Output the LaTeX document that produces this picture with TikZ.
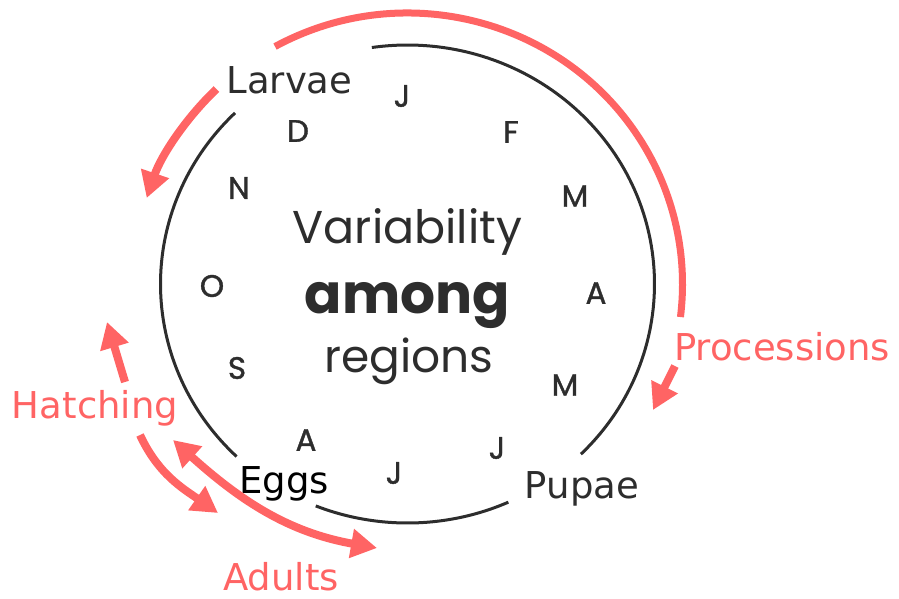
\documentclass[tikz,border=0pt]{standalone}
\usepackage{fontspec}
\setmainfont{Poppins}
\newfontfamily\monthfont[FakeBold=1.2]{Poppins}
\newfontfamily\handfont{DejaVu Sans}
\usetikzlibrary{arrows.meta,calc}
\definecolor{rosered}{RGB}{255,100,100}
\definecolor{inkgray}{RGB}{45,45,45}
\tikzset{
  month/.style={font=\monthfont\fontsize{31}{31}\selectfont, text=inkgray, inner sep=0pt},
  stage/.style={font=\handfont\fontsize{37}{37}\selectfont, text=inkgray, inner sep=0pt, anchor=base},
  event/.style={stage, text=rosered},
  ring/.style={line width=3pt, draw=inkgray},
  flow/.style={line width=8pt, draw=rosered, -{Triangle[length=26pt,width=28pt]}},
  twoflow/.style={flow, {Triangle[length=26pt,width=28pt]}-{Triangle[length=26pt,width=28pt]}},
}
\begin{document}
\begin{tikzpicture}[x=1pt,y=1pt]
  \useasboundingbox (0,0) rectangle (899,-598);
  \coordinate (C) at (407.5,-284);
  % 黑色圆环
  \draw[ring] ($(C)+(-45.4:247pt and 239pt)$) arc[start angle=-45.4, end angle=98.3, x radius=247pt, y radius=239pt];
  \draw[ring] ($(C)+(-111.8:247pt and 239pt)$) arc[start angle=-111.8, end angle=-65.9, x radius=247pt, y radius=239pt];
  \draw[ring] ($(C)+(134.3:247pt and 239pt)$) arc[start angle=134.3, end angle=226.2, x radius=247pt, y radius=239pt];
  % 月份
  \foreach \m/\x/\y/\n in {J/402/96/jan, F/511/132/feb, M/575/196/mar, A/596/293/apr,
      M/565/385/may, J/497/448/jun, J/394/473/jul, A/306/440/aug, S/237/368/sep,
      O/212/286/oct, N/239/188/nov, D/298/131/dec}
    \node[month] (\n) at (\x,-\y) {\m};
  % 中间文字
  \node[font=\fontsize{46}{46}\selectfont, text=inkgray, anchor=base] (var) at (407.5,-243) {Variability};
  \node[font=\bfseries\fontsize{55}{55}\selectfont, text=inkgray, anchor=base] (among) at (407.5,-313) {among};
  \node[font=\fontsize{45.5}{45.5}\selectfont, text=inkgray, anchor=base] (reg) at (409,-372) {regions};
  % 阶段
  \node[stage] (larvae) at (289.5,-93) {Larvae};
  \node[stage] (pupae) at (582,-498) {Pupae};
  \node[stage, text=black] (eggs) at (284,-493) {Eggs};
  \node[event] (proc) at (782,-360) {Processions};
  \node[event] (hatch) at (95,-418) {Hatching};
  \node[event] (adults) at (281,-590) {Adults};
  % 红色箭头
  \draw[line width=7pt, rosered] ($(C)+(118.8:275pt and 271pt)$) arc[start angle=118.8, end angle=-7, x radius=275pt, y radius=271pt];
  \draw[flow] ($(C)+(134:275pt and 271pt)$) arc[start angle=134, end angle=161.5, x radius=275pt, y radius=271pt];
  \coordinate (procS) at (675,-366);
  \coordinate (procT) at (653,-410);
  \draw[flow] (procS) -- (procT);
  \coordinate (hatchS) at (125,-382);
  \coordinate (hatchT) at (107,-322);
  \draw[flow] (hatchS) -- (hatchT);
  \coordinate (hatchD) at (140,-435);
  \coordinate (hatchE) at (218,-513);
  \draw[flow] (hatchD) to[out=-65, in=145] (hatchE);
  \coordinate (adultS) at (173,-440);
  \coordinate (adultT) at (377,-548);
  \draw[twoflow] (adultS) to[out=-42, in=170] (adultT);
\end{tikzpicture}
\end{document}
